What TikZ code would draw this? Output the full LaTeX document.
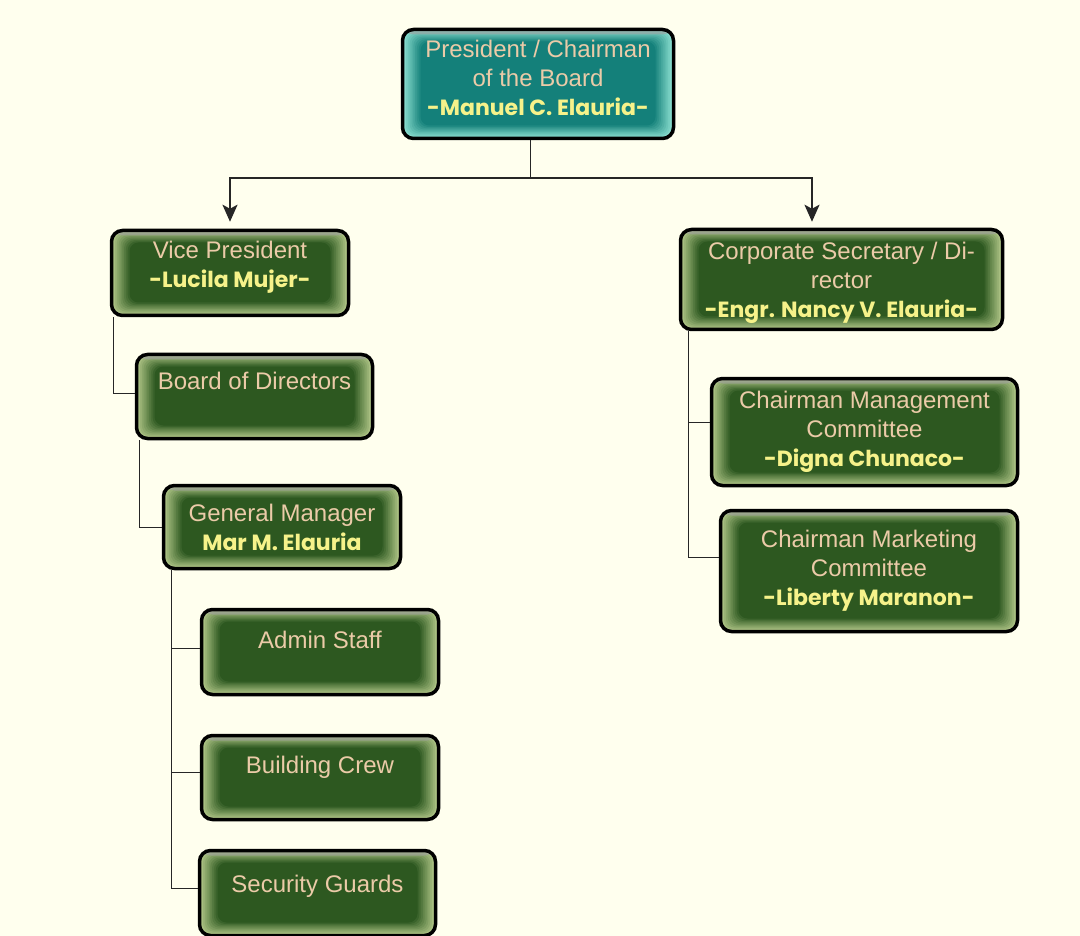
\documentclass[tikz,border=0pt]{standalone}
\usepackage{fontspec}
\setmainfont{Liberation Sans}
\newfontfamily\namefont{Poppins}
\usetikzlibrary{arrows.meta}

\definecolor{paper}{HTML}{FFFFEE}
\definecolor{leafdark}{HTML}{2D5820}
\definecolor{leaflight}{HTML}{B4C98A}
\definecolor{tealdark}{HTML}{14807A}
\definecolor{teallight}{HTML}{8FE2D2}
\definecolor{titletan}{HTML}{EBCBA8}
\definecolor{nameyellow}{HTML}{F6F28A}

\newcommand\who[1]{{\namefont\bfseries\fontsize{22}{29}\selectfont\color{nameyellow}#1}}

\tikzset{
  glow/.style 2 args={fill=#1, path picture={
    \foreach \i [evaluate=\i as \p using int(100-10*\i)] in {0,...,10}
      \fill[#2!\p!#1, rounded corners=9pt]
        ([shift={(1.8*\i pt,-1.2*\i pt)}]path picture bounding box.north west) rectangle
        ([shift={(-1.8*\i pt,1.3*\i pt)}]path picture bounding box.south east);
    \fill[gray!75, opacity=0.6]
      (path picture bounding box.north west) rectangle ([yshift=-5pt]path picture bounding box.north east);}}
}

\begin{document}
\begin{tikzpicture}[x=1pt,y=-1pt,
  box/.style={draw=black, line width=3.5pt, rounded corners=11pt, glow={leafdark}{leaflight},
    text=titletan, align=center, inner sep=0pt, font=\fontsize{24}{29}\selectfont},
  topbox/.style={box, glow={tealdark}{teallight}},
  link/.style={draw=black!85, line width=1pt},
  bus/.style={draw=black!85, line width=2.4pt}]
% paper
\fill[paper] (0,0) rectangle (1080,936);
\useasboundingbox (0,0) rectangle (1080,936);

% top of the chart
\node[topbox, text depth=12pt, minimum width=271pt, minimum height=109pt] (pres) at (538,84)
  {President / Chairman\\of the Board\\\who{-Manuel C. Elauria-}};

% left branch
\node[box, text depth=18pt, minimum width=237pt, minimum height=85pt] (vp) at (230,273)
  {Vice President\\\who{-Lucila Mujer-}};
\node[box, text depth=32pt, minimum width=236pt, minimum height=84pt] (bod) at (254.5,396.5) {Board of Directors};
\node[box, minimum width=237pt, minimum height=83pt] (gm) at (282,527)
  {General Manager\\\who{Mar M. Elauria}};
\node[box, text depth=24pt, minimum width=237pt, minimum height=85pt] (admin) at (320,652) {Admin Staff};
\node[box, text depth=26pt, minimum width=237pt, minimum height=84pt] (build) at (320,777.5) {Building Crew};
\node[box, text depth=18pt, minimum width=236pt, minimum height=85pt] (secur) at (317.5,893) {Security Guards};

% right branch
\node[box, minimum width=322pt, minimum height=100pt] (cs) at (841.5,279.5)
  {\rule{0pt}{25pt}Corporate Secretary / Di-\\rector\\\who{-Engr. Nancy V. Elauria-}};
\node[box, minimum width=306pt, minimum height=107pt] (cm) at (864.5,432)
  {Chairman Management\\Committee\\\who{-Digna Chunaco-}};
\node[box, minimum width=297pt, minimum height=121pt] (mk) at (869,571)
  {Chairman Marketing\\Committee\\\who{-Liberty Maranon-}};

% arrows from the top
\coordinate (fork) at (530,178);
\draw[link] (pres.south -| fork) -- (fork);
\draw[bus, -{Stealth[length=17pt,width=15pt,inset=4pt]}] (fork) -| ([yshift=7pt]vp.north);
\draw[bus, -{Stealth[length=17pt,width=15pt,inset=4pt]}] (fork) -| ([xshift=-29.5pt,yshift=6pt]cs.north);

% thin links
\draw[link] ([xshift=4pt]vp.south west) |- ([yshift=3pt]bod.west);
\draw[link] ([xshift=5pt]bod.south west) |- (gm.west);
\foreach \n/\dy in {admin/4,build/5,secur/5}
  \draw[link] ([xshift=10pt]gm.south west) |- ([yshift=\dy pt]\n.west);
\foreach \n/\dy in {cm/10,mk/14}
  \draw[link] ([xshift=10pt]cs.south west) |- ([yshift=\dy pt]\n.west);

\end{tikzpicture}
\end{document}
